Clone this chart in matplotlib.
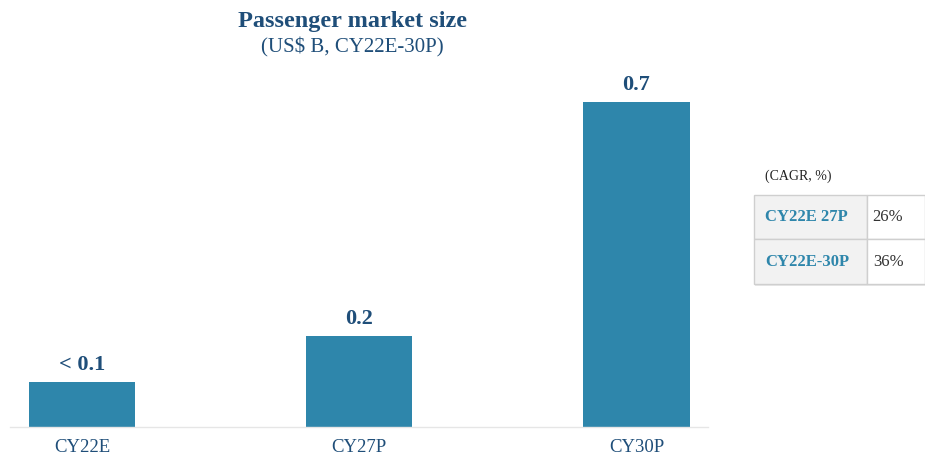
import matplotlib
matplotlib.use("Agg")
import matplotlib.pyplot as plt
from matplotlib.patches import Rectangle

categories = ["CY22E", "CY27P", "CY30P"]
values = [0.097, 0.196, 0.7]
value_labels = ["< 0.1", "0.2", "0.7"]
cagr_periods = ["CY22E 27P", "CY22E-30P"]
cagr_values = ["26%", "36%"]

plt.rcParams['font.family'] = ['Liberation Serif', 'DejaVu Serif']

W, H = 925, 462
fig = plt.figure(figsize=(W / 100, H / 100), dpi=100)
fig.patch.set_facecolor("white")

def fx(px):
    return px / W

def fy(py):
    return 1 - py / H

ax_left, ax_right, ax_top, ax_bottom = 10, 708, 60, 427
ax = fig.add_axes([fx(ax_left), fy(ax_bottom), (ax_right - ax_left) / W, (ax_bottom - ax_top) / H])

bar_color = "#2E86AB"
navy = "#1F4E79"
pos = list(range(len(categories)))
ax.bar(pos, values, width=0.383, color=bar_color, zorder=2)
for p, v, lab in zip(pos, values, value_labels):
    ax.text(p, v + 0.016, lab, ha="center", va="bottom", fontsize=16,
            fontweight="bold", color=navy)

scale = 325 / 0.7
ax.set_ylim(0, (ax_bottom - ax_top) / scale)
ax.set_xlim(-72 / 277, 2 + 71.5 / 277)
ax.set_yticks([])
ax.set_xticks(pos)
ax.set_xticklabels(categories, fontsize=13.5, color=navy)
ax.tick_params(axis="x", length=0, pad=9)
for s in ["top", "right", "left"]:
    ax.spines[s].set_visible(False)
ax.spines["bottom"].set_color("#E6E6E6")
ax.spines["bottom"].set_linewidth(1.0)

fig.text(fx(352), fy(21), "Passenger market size", ha="center", va="center",
         fontsize=17.5, fontweight="bold", color=navy)
fig.text(fx(352), fy(47), "(US$ B, CY22E-30P)", ha="center", va="center",
         fontsize=15, color=navy)

# CAGR table
fig.text(fx(765), fy(176), "(CAGR, %)", ha="left", va="center", fontsize=10, color="#222222")
tl, tm, tr = 754, 867, 925
rows = [195, 239, 284]
shadow = Rectangle((fx(tl + 1), fy(rows[-1] + 2)), (tr - tl) / W, (rows[-1] - rows[0]) / H,
                   transform=fig.transFigure, facecolor="#E8E8E8", edgecolor="none", zorder=0)
fig.patches.append(shadow)
for i, (per, val) in enumerate(zip(cagr_periods, cagr_values)):
    y0, y1 = rows[i], rows[i + 1]
    fig.patches.append(Rectangle((fx(tl), fy(y1)), (tm - tl) / W, (y1 - y0) / H,
                                 transform=fig.transFigure, facecolor="#F2F2F2",
                                 edgecolor="#CFCFCF", linewidth=1.0, zorder=1))
    fig.patches.append(Rectangle((fx(tm), fy(y1)), (tr - tm) / W, (y1 - y0) / H,
                                 transform=fig.transFigure, facecolor="white",
                                 edgecolor="#CFCFCF", linewidth=1.0, zorder=1))
    yc = (y0 + y1) / 2
    fig.text(fx(765), fy(yc), per, ha="left", va="center", fontsize=12,
             fontweight="bold", color="#2E86AB")
    fig.text(fx(888), fy(yc), val, ha="center", va="center", fontsize=12,
             color="#333333")

fig.savefig("out.png", dpi=100)
